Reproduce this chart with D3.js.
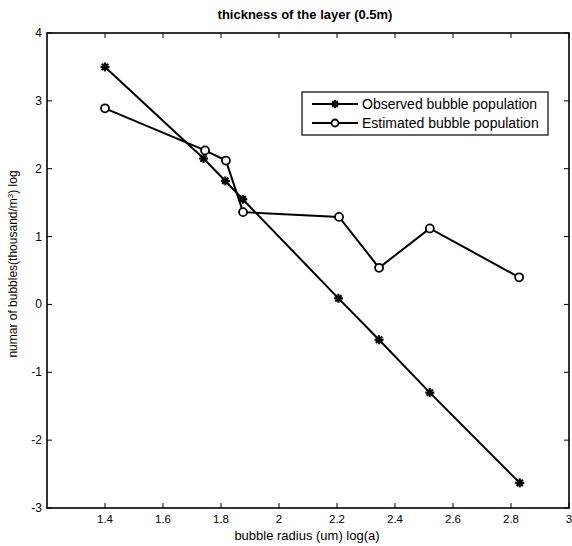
<!DOCTYPE html>
<html><head><meta charset="utf-8">
<script src="https://cdn.jsdelivr.net/npm/d3@7"></script>
<style>body{margin:0;background:#fff}svg{display:block;font-family:"Liberation Sans",Arial,sans-serif}</style>
</head><body>
<svg id="c" width="572" height="546"></svg>
<script>
const xObserved = [1.4, 1.74, 1.815, 1.875, 2.205, 2.345, 2.52, 2.83];
const yObserved = [3.5, 2.15, 1.82, 1.55, 0.09, -0.52, -1.3, -2.63];
const xEstimated = [1.4, 1.745, 1.817, 1.876, 2.207, 2.345, 2.52, 2.828];
const yEstimated = [2.89, 2.27, 2.12, 1.36, 1.29, 0.54, 1.12, 0.4];
const xTicks = [1.4, 1.6, 1.8, 2, 2.2, 2.4, 2.6, 2.8, 3];
const yTicks = [-3, -2, -1, 0, 1, 2, 3, 4];
const seriesNames = ["Observed bubble population", "Estimated bubble population"];

const svg = d3.select("#c");
const L = 47, R = 569, T = 33, B = 508;
const x = d3.scaleLinear().domain([1.2, 3]).range([L, R]);
const y = d3.scaleLinear().domain([-3, 4]).range([B, T]);

const tl = 5;
const g = svg.append("g");
xTicks.forEach(t => {
  g.append("line").attr("x1", x(t)).attr("x2", x(t)).attr("y1", B).attr("y2", B - tl).attr("stroke", "#000").attr("stroke-width", 1);
  g.append("line").attr("x1", x(t)).attr("x2", x(t)).attr("y1", T).attr("y2", T + tl).attr("stroke", "#000").attr("stroke-width", 1);
  g.append("text").attr("x", x(t)).attr("y", B + 15).attr("text-anchor", "middle").attr("font-size", 11.5).text(d3.format("")(t));
});
yTicks.forEach(t => {
  g.append("line").attr("x1", L).attr("x2", L + tl).attr("y1", y(t)).attr("y2", y(t)).attr("stroke", "#000").attr("stroke-width", 1);
  g.append("line").attr("x1", R).attr("x2", R - tl).attr("y1", y(t)).attr("y2", y(t)).attr("stroke", "#000").attr("stroke-width", 1);
  g.append("text").attr("x", L - 5).attr("y", y(t) + 4).attr("text-anchor", "end").attr("font-size", 12).text(t);
});
svg.append("rect").attr("x", L).attr("y", T).attr("width", R - L).attr("height", B - T)
  .attr("fill", "none").attr("stroke", "#000").attr("stroke-width", 1.6);

const line = d3.line().x(d => x(d[0])).y(d => y(d[1]));
const obs = xObserved.map((v, i) => [v, yObserved[i]]);
const est = xEstimated.map((v, i) => [v, yEstimated[i]]);

function star(sel, cx, cy, s) {
  const gg = sel.append("g").attr("transform", `translate(${cx},${cy})`);
  [[-s,0,s,0],[0,-s,0,s],[-s*0.7,-s*0.7,s*0.7,s*0.7],[-s*0.7,s*0.7,s*0.7,-s*0.7]].forEach(a=>{
    gg.append("line").attr("x1",a[0]).attr("y1",a[1]).attr("x2",a[2]).attr("y2",a[3]).attr("stroke","#000").attr("stroke-width",2.2);
  });
  gg.append("circle").attr("r", 2.5).attr("fill", "#000");
}

svg.append("path").datum(obs).attr("d", line).attr("fill", "none").attr("stroke", "#000").attr("stroke-width", 2);
svg.append("path").datum(est).attr("d", line).attr("fill", "none").attr("stroke", "#000").attr("stroke-width", 2);
obs.forEach(d => star(svg, x(d[0]), y(d[1]), 4.5));
est.forEach(d => svg.append("circle").attr("cx", x(d[0])).attr("cy", y(d[1])).attr("r", 4).attr("fill", "#fff").attr("stroke", "#000").attr("stroke-width", 1.8));

// legend
const lg = svg.append("g");
lg.append("rect").attr("x", 302).attr("y", 92).attr("width", 246).attr("height", 43).attr("fill", "#fff").attr("stroke", "#000").attr("stroke-width", 1.2);
[104, 123].forEach((ly, i) => {
  lg.append("line").attr("x1", 312).attr("x2", 358).attr("y1", ly).attr("y2", ly).attr("stroke", "#000").attr("stroke-width", 2);
  if (i === 0) star(lg, 335, ly, 4); else lg.append("circle").attr("cx", 335).attr("cy", ly).attr("r", 3.5).attr("fill", "#fff").attr("stroke", "#000").attr("stroke-width", 1.8);
  lg.append("text").attr("x", 362).attr("y", ly + 5).attr("font-size", 14).text(seriesNames[i]);
});

// titles
svg.append("text").attr("x", 305).attr("y", 19).attr("text-anchor", "middle").attr("font-size", 13).attr("font-weight", "bold").text("thickness of the layer (0.5m)");
svg.append("text").attr("x", 307).attr("y", 540).attr("text-anchor", "middle").attr("font-size", 13).text("bubble radius (um) log(a)");
const yl = svg.append("text").attr("transform", `translate(17,264) rotate(-90)`).attr("text-anchor", "middle").attr("font-size", 12);
yl.append("tspan").text("numar of bubbles(thousand/m");
yl.append("tspan").attr("baseline-shift", "super").attr("font-size", 8).text("3");
yl.append("tspan").text(") log");
</script>
</body></html>
